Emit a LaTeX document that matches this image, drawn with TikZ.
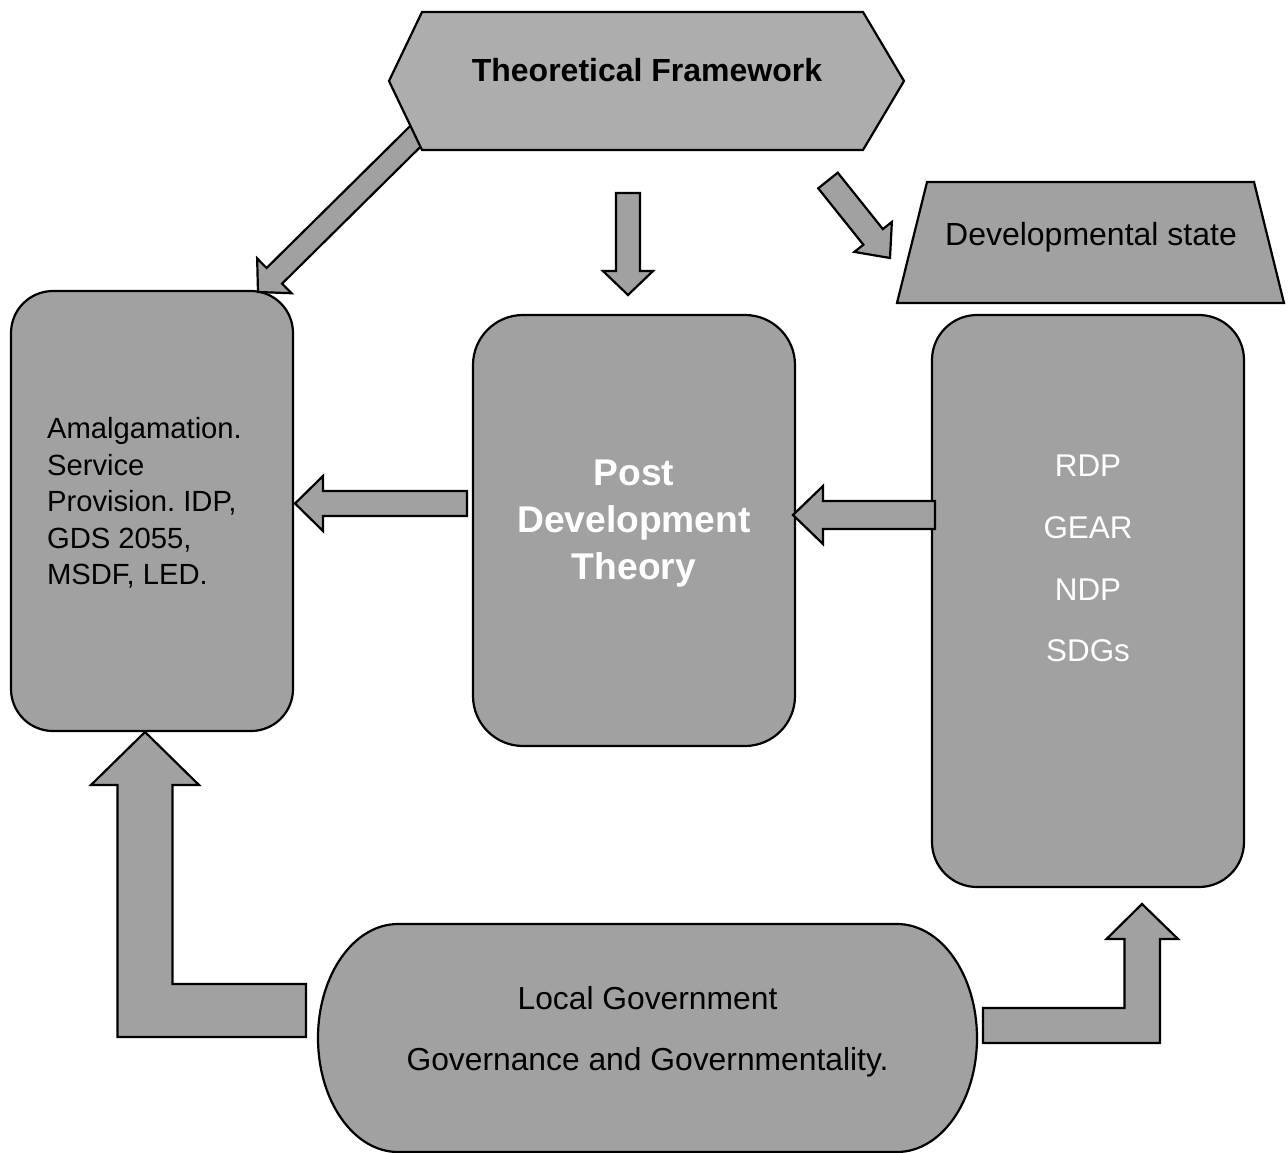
\documentclass[tikz,border=0pt]{standalone}
\usepackage{fontspec}
\setmainfont{Liberation Sans}
\usetikzlibrary{calc}
\frenchspacing

\definecolor{framegray}{gray}{0.68}
\definecolor{boxgray}{gray}{0.63}

\newcommand{\blockarrow}[5]{%
  \coordinate (headbase) at ($(#2)!#5!(#1)$);
  \draw [arrowbody] ($(#1)!#3!90:(#2)$) -- ($(headbase)!#3!90:(#2)$)
    -- ($(headbase)!#4!90:(#2)$) -- (#2) -- ($(headbase)!#4!-90:(#2)$)
    -- ($(headbase)!#3!-90:(#2)$) -- ($(#1)!#3!-90:(#2)$) -- cycle;
}

\begin{document}
\begin{tikzpicture}[x=1pt,y=-1pt,line width=2.2pt]
      \tikzset{shape box/.style={draw=black,
          fill=boxgray,
          inner sep=0pt,
          outer sep=0pt},
        round box/.style={shape box, rectangle, rounded corners=#1},
        frame box/.style={inner sep=0pt, outer sep=0pt},
        arrowbody/.style={draw=black, fill=boxgray, line join=miter}
      }
      \useasboundingbox (0,0) rectangle (1288,1153);

      \node [round box=42pt, minimum width=282, minimum height=440] (AM) at (152,511) {};
      \node [round box=50pt, minimum width=322, minimum height=431] (PDT) at (634,530.5) {};
      \node [round box=45pt, minimum width=312, minimum height=572] (RB) at (1088,601) {};
      \node [frame box, minimum width=387, minimum height=121] (DS) at (1090.5,242.5) {};
      \node [frame box, minimum width=659, minimum height=228] (LG) at (647.5,1038) {};
      \node [frame box, minimum width=441, minimum height=138] (TF) at (642.5,81) {};

      \draw [shape box] (DS.south west) -- (DS.south east) -- ($(DS.north east)+(-30,0)$)
        -- ($(DS.north west)+(30,0)$) -- cycle;
      \draw [shape box] ($(LG.north west)+(80,0)$) -- ($(LG.north east)+(-80,0)$)
        arc [start angle=90, end angle=-90, x radius=80pt, y radius=114pt]
        -- ($(LG.south west)+(80,0)$)
        arc [start angle=270, end angle=90, x radius=80pt, y radius=114pt] -- cycle;

      \coordinate (a1tail) at ($(TF.south west)+(18,-38)$);
      \coordinate (a1tip) at ($(AM.north east)+(-35,1)$);
      \blockarrow{a1tail}{a1tip}{11pt}{24.5pt}{23pt}
      \coordinate (a2tail) at ($(TF.south)+(-14.5,43)$);
      \coordinate (a2tip) at ($(PDT.north)+(-6,-20)$);
      \blockarrow{a2tail}{a2tip}{12pt}{25pt}{24pt}
      \coordinate (a3tail) at ($(TF.south east)+(-35,30.5)$);
      \coordinate (a3tip) at ($(DS.south west)+(-7,-45)$);
      \blockarrow{a3tail}{a3tip}{12.5pt}{24pt}{27pt}
      \coordinate (a4tail) at ($(PDT.west)+(-6,-27)$);
      \coordinate (a4tip) at ($(AM.east)+(2,-7.5)$);
      \blockarrow{a4tail}{a4tip}{12.5pt}{27.5pt}{28pt}
      \coordinate (a5tail) at ($(RB.west)+(3,-86)$);
      \coordinate (a5tip) at ($(PDT.east)+(-2,-15.5)$);
      \blockarrow{a5tail}{a5tip}{14pt}{29pt}{30pt}

      \coordinate (LGout) at ($(LG.west)+(-12,-27.5)$);
      \coordinate (AMin) at ($(AM.south)+(-7,1)$);
      \draw [arrowbody] ($(LGout)+(0,-26.5)$) -| ($(AMin)+(27.5,53)$) -- ++(26.5,0) -- (AMin)
        -- ($(AMin)+(-54,53)$) -- ++(26.5,0) |- ($(LGout)+(0,26.5)$) -- cycle;
      \coordinate (LGout2) at ($(LG.east)+(6,-12.5)$);
      \coordinate (RBin) at ($(RB.south)+(54,17)$);
      \draw [arrowbody] ($(LGout2)+(0,-17.5)$) -| ($(RBin)+(-17.5,35)$) -- ++(-18,0) -- (RBin)
        -- ($(RBin)+(36,35)$) -- ++(-18,0) |- ($(LGout2)+(0,17.5)$) -- cycle;

      \draw [shape box, fill=framegray] (TF.north west) -- (TF.north east) -- ($(TF.east)+(41,0)$)
        -- (TF.south east) -- (TF.south west) -- ($(TF.west)+(-33,0)$) -- cycle;

      \node [anchor=base, font=\bfseries\fontsize{32}{40}\selectfont] (TFtext) at ($(TF.center)+(4.5,0.5)$) {Theoretical Framework};
      \node [anchor=base, font=\fontsize{32}{40}\selectfont] (DStext) at ($(DS.center)+(0.5,3)$) {Developmental state};
      \node [anchor=west, align=left, inner sep=0pt, font=\fontsize{29.2}{36.5}\selectfont] (AMtext) at ($(AM.west)+(35,-8)$)
        {Amalgamation.\\Service\\Provision. IDP,\\GDS 2055,\\MSDF, LED.};
      \node [inner sep=0pt, align=center, text=white, font=\bfseries\fontsize{37.2}{47}\selectfont] (PDTtext) at ($(PDT.center)+(0,-6.6)$)
        {Post\\Development\\Theory};
      \node [inner sep=0pt, align=center, text=white, font=\fontsize{31.4}{61.7}\selectfont] (RBtext) at ($(RB.center)+(0,-42.4)$)
        {RDP\\GEAR\\NDP\\SDGs};
      \node [inner sep=0pt, align=center, font=\fontsize{31.8}{61}\selectfont] (LGtext) at ($(LG.center)+(0,-6.4)$)
        {Local Government\\Governance and Governmentality.};
    \end{tikzpicture}
\end{document}
